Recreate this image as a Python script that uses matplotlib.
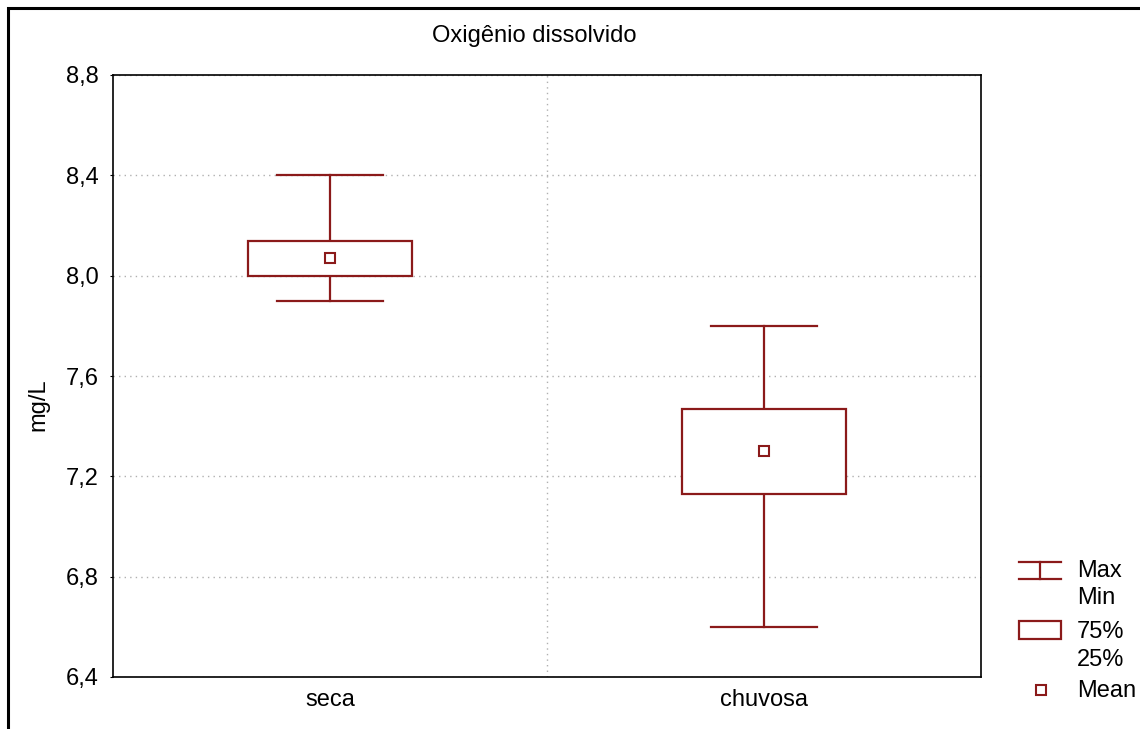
import matplotlib.pyplot as plt
from matplotlib.lines import Line2D
from matplotlib.patches import Rectangle

plt.rcParams['font.family'] = ['Liberation Sans', 'DejaVu Sans']

# dados
categorias = ['seca', 'chuvosa']
maximos = [8.40, 7.80]
minimos = [7.90, 6.60]
q75 = [8.14, 7.47]
q25 = [8.00, 7.13]
medias = [8.07, 7.30]
yticks = [6.4, 6.8, 7.2, 7.6, 8.0, 8.4, 8.8]

cor = '#8b1a1a'
lw = 1.6
fs = 17

fig = plt.figure(figsize=(11.4, 7.29), dpi=100)
ax = fig.add_axes([113 / 1140, 1 - 677 / 729, (981 - 113) / 1140, (677 - 75) / 729])

# moldura da figura (só esquerda e topo visíveis)
fig.patches.append(Rectangle((8 / 1140, -0.1), 1.2, 1 - 8 / 729 + 0.1, transform=fig.transFigure,
                             fill=False, edgecolor='black', linewidth=2.2, zorder=0))

meia_caixa = 0.19
meia_tampa = 0.121
for i in range(len(categorias)):
    # bigodes
    ax.plot([i, i], [minimos[i], q25[i]], color=cor, lw=lw, zorder=3)
    ax.plot([i, i], [q75[i], maximos[i]], color=cor, lw=lw, zorder=3)
    ax.plot([i - meia_tampa, i + meia_tampa], [maximos[i]] * 2, color=cor, lw=lw, zorder=3)
    ax.plot([i - meia_tampa, i + meia_tampa], [minimos[i]] * 2, color=cor, lw=lw, zorder=3)
    # caixa
    ax.add_patch(Rectangle((i - meia_caixa, q25[i]), 2 * meia_caixa, q75[i] - q25[i],
                           facecolor='white', edgecolor=cor, lw=lw, zorder=3))
    # média
    ax.plot(i, medias[i], marker='s', ms=7.5, mfc='white', mec=cor, mew=1.5, zorder=4)

ax.set_xlim(-0.5, 1.5)
ax.set_ylim(6.4, 8.8)
ax.set_yticks(yticks)
ax.set_yticklabels([f'{v:.1f}'.replace('.', ',') for v in yticks], fontsize=fs)
ax.set_xticks(range(len(categorias)))
ax.set_xticklabels(categorias, fontsize=fs)
ax.tick_params(axis='x', length=0, pad=9)
ax.tick_params(axis='y', length=2, pad=8)
ax.yaxis.grid(True, linestyle=(0, (1, 3)), color='#b0b0b0', lw=1)
ax.axvline(0.5, linestyle=(0, (1, 3)), color='#b0b0b0', lw=1, zorder=1)
ax.set_axisbelow(True)
for s in ax.spines.values():
    s.set_linewidth(1.2)

fig.text(534 / 1140, 1 - 36 / 729, 'Oxigênio dissolvido', ha='center', va='center', fontsize=fs)
fig.text(38 / 1140, 1 - 405 / 729, 'mg/L', ha='center', va='center', rotation=90, fontsize=fs)

# legenda desenhada à mão
def px(x, y):
    return x / 1140, 1 - y / 729

tf = fig.transFigure
for yy in (562, 579):
    (x0, y0), (x1, _) = px(1019, yy), px(1061, yy)
    fig.lines.append(Line2D([x0, x1], [y0, y0], transform=tf, color=cor, lw=lw))
(xa, ya), (_, yb) = px(1040, 562), px(1040, 579)
fig.lines.append(Line2D([xa, xa], [ya, yb], transform=tf, color=cor, lw=lw))
xr, yr = px(1019, 639)
fig.patches.append(Rectangle((xr, yr), 42 / 1140, 18 / 729, transform=tf,
                             facecolor='white', edgecolor=cor, lw=lw))
xm, ym = px(1041, 690)
fig.lines.append(Line2D([xm], [ym], transform=tf, marker='s', ms=7.5, mfc='white', mec=cor, mew=1.5))

for texto, yy in [('Max', 571), ('Min', 598), ('75%', 632), ('25%', 660), ('Mean', 691)]:
    fig.text(1077 / 1140, 1 - yy / 729, texto, ha='left', va='center', fontsize=fs)

fig.savefig('out.png', dpi=100)
